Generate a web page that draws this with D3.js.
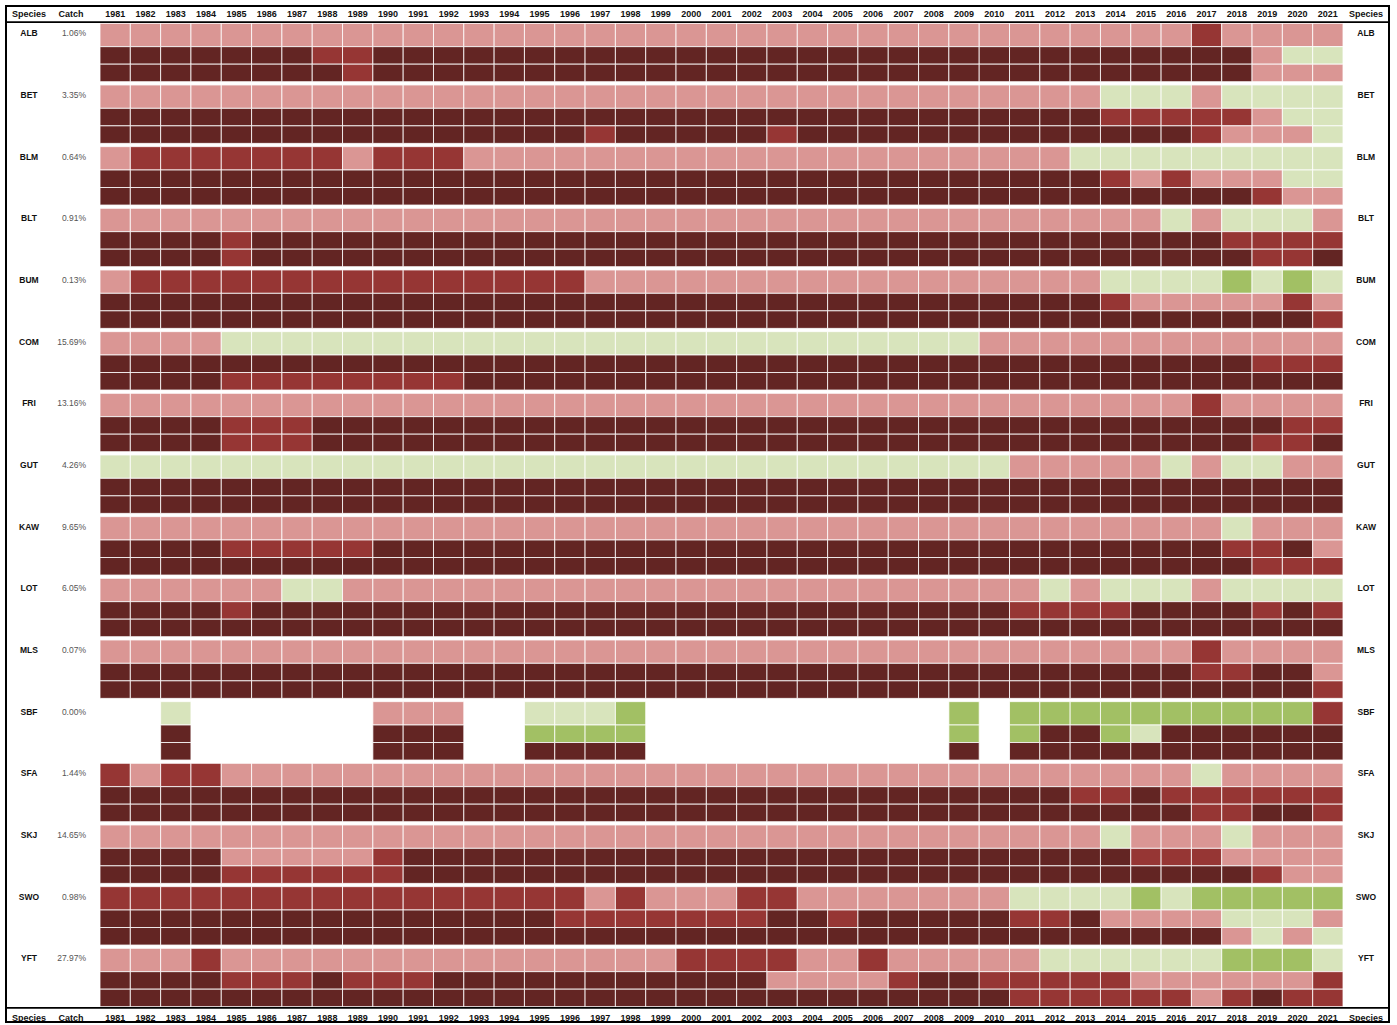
<!DOCTYPE html>
<html>
<head>
<meta charset="utf-8">
<script src="https://cdn.jsdelivr.net/npm/d3@7"></script>
<style>
  html, body { margin: 0; padding: 0; background: #fff; }
  svg { display: block; font-family: "Liberation Sans", Arial, sans-serif; }
</style>
</head>
<body>
<svg id="chart" width="1397" height="1025"></svg>
<script>
// Species codes and their share of total catch
const species = ["ALB","BET","BLM","BLT","BUM","COM","FRI","GUT","KAW","LOT","MLS","SBF","SFA","SKJ","SWO","YFT"];
const catchShare = ["1.06%","3.35%","0.64%","0.91%","0.13%","15.69%","13.16%","4.26%","9.65%","6.05%","0.07%","0.00%","1.44%","14.65%","0.98%","27.97%"];
const years = d3.range(1981, 2022).map(String);

// Status codes per year (1981-2021), three indicator rows per species.
// D = dark red, R = red, L = light red, G = light green, V = green, . = no data.
// Spaces only group the decades for reading.
const statusALB = ["LLLLLLLLLL LLLLLLLLLL LLLLLLLLLL LLLLLLRLLL L",
                   "DDDDDDDRRD DDDDDDDDDD DDDDDDDDDD DDDDDDDDLG G",
                   "DDDDDDDDRD DDDDDDDDDD DDDDDDDDDD DDDDDDDDLL L"];
const statusBET = ["LLLLLLLLLL LLLLLLLLLL LLLLLLLLLL LLLGGGLGGG G",
                   "DDDDDDDDDD DDDDDDDDDD DDDDDDDDDD DDDRRRRRLG G",
                   "DDDDDDDDDD DDDDDDRDDD DDRDDDDDDD DDDDDDRLLL G"];
const statusBLM = ["LRRRRRRRLR RRLLLLLLLL LLLLLLLLLL LLGGGGGGGG G",
                   "DDDDDDDDDD DDDDDDDDDD DDDDDDDDDD DDDRLRLLLG G",
                   "DDDDDDDDDD DDDDDDDDDD DDDDDDDDDD DDDDDDDDRL L"];
const statusBLT = ["LLLLLLLLLL LLLLLLLLLL LLLLLLLLLL LLLLLGLGGG L",
                   "DDDDRDDDDD DDDDDDDDDD DDDDDDDDDD DDDDDDDRRR R",
                   "DDDDRDDDDD DDDDDDDDDD DDDDDDDDDD DDDDDDDDRR D"];
const statusBUM = ["LRRRRRRRRR RRRRRRLLLL LLLLLLLLLL LLLGGGGVGV G",
                   "DDDDDDDDDD DDDDDDDDDD DDDDDDDDDD DDDRLLLLLR L",
                   "DDDDDDDDDD DDDDDDDDDD DDDDDDDDDD DDDDDDDDDD R"];
const statusCOM = ["LLLLGGGGGG GGGGGGGGGG GGGGGGGGGL LLLLLLLLLL L",
                   "DDDDDDDDDD DDDDDDDDDD DDDDDDDDDD DDDDDDDDRR R",
                   "DDDDRRRRRR RRDDDDDDDD DDDDDDDDDD DDDDDDDDDD D"];
const statusFRI = ["LLLLLLLLLL LLLLLLLLLL LLLLLLLLLL LLLLLLRLLL L",
                   "DDDDRRRDDD DDDDDDDDDD DDDDDDDDDD DDDDDDDDDR R",
                   "DDDDRRRDDD DDDDDDDDDD DDDDDDDDDD DDDDDDDDRR D"];
const statusGUT = ["GGGGGGGGGG GGGGGGGGGG GGGGGGGGGG LLLLLGLGGL L",
                   "DDDDDDDDDD DDDDDDDDDD DDDDDDDDDD DDDDDDDDDD D",
                   "DDDDDDDDDD DDDDDDDDDD DDDDDDDDDD DDDDDDDDDD D"];
const statusKAW = ["LLLLLLLLLL LLLLLLLLLL LLLLLLLLLL LLLLLLLGLL L",
                   "DDDDRRRRRD DDDDDDDDDD DDDDDDDDDD DDDDDDDRRD L",
                   "DDDDDDDDDD DDDDDDDDDD DDDDDDDDDD DDDDDDDDRR R"];
const statusLOT = ["LLLLLLGGLL LLLLLLLLLL LLLLLLLLLL LGLGGGLGGG G",
                   "DDDDRDDDDD DDDDDDDDDD DDDDDDDDDD RRRRDDDDRD R",
                   "DDDDDDDDDD DDDDDDDDDD DDDDDDDDDD DDDDDDDDDD D"];
const statusMLS = ["LLLLLLLLLL LLLLLLLLLL LLLLLLLLLL LLLLLLRLLL L",
                   "DDDDDDDDDD DDDDDDDDDD DDDDDDDDDD DDDDDDRRDD L",
                   "DDDDDDDDDD DDDDDDDDDD DDDDDDDDDD DDDDDDDDDD R"];
const statusSBF = ["..G......L LL..GGGV.. ........V. VVVVVVVVVV R",
                   "..D......D DD..VVVV.. ........V. VDDVGDDDDD D",
                   "..D......D DD..DDDD.. ........D. DDDDDDDDDD D"];
const statusSFA = ["RLRRLLLLLL LLLLLLLLLL LLLLLLLLLL LLLLLLGLLL L",
                   "DDDDDDDDDD DDDDDDDDDD DDDDDDDDDD DDRRDRRRRR R",
                   "DDDDDDDDDD DDDDDDDDDD DDDDDDDDDD DDDDDDRRDD R"];
const statusSKJ = ["LLLLLLLLLL LLLLLLLLLL LLLLLLLLLL LLLGLLLGLL L",
                   "DDDDLLLLLR DDDDDDDDDD DDDDDDDDDD DDDDRRRLLL L",
                   "DDDDRRRRRR DDDDDDDDDD DDDDDDDDDD DDDDDDDDRL L"];
const statusSWO = ["RRRRRRRRRR RRRRRRLRLL LRRLLLLLLL GGGGVGVVVV V",
                   "DDDDDDDDDD DDDDDRRRRR RRDDRDDDDD RRDLLLLGGG L",
                   "DDDDDDDDDD DDDDDDDDDD DDDDDDDDDD DDDDDDDLGL G"];
const statusYFT = ["LLLRLLLLLL LLLLLLLLLR RRRLLRLLLL LGGGGGGVVV G",
                   "DDDDRRRDRR RDDDDDDDDD DDLLLLRDDR RRRRLLLLLL R",
                   "DDDDDDDDDD DDDDDDDDDD DDDDDDDDDD RRRRRRLRDR R"];

const statusBySpecies = [statusALB, statusBET, statusBLM, statusBLT, statusBUM, statusCOM,
  statusFRI, statusGUT, statusKAW, statusLOT, statusMLS, statusSBF, statusSFA, statusSKJ,
  statusSWO, statusYFT];

// ---- drawing ----
const svg = d3.select("#chart");
const W = 1397, H = 1025;

const x = d3.scaleBand().domain(years).range([100, 1343]);
const yGroup = d3.scaleBand().domain(species).range([23.3, 1006.7]).paddingInner(0.053);
// the first indicator row is taller than the two below it
const rowEdges = [0, 0.4, 0.7, 1.0];

const fill = d3.scaleOrdinal()
  .domain(["D", "R", "L", "G", "V"])
  .range(["#632523", "#963634", "#DA9694", "#D8E4BC", "#A2C064"]);

const cells = [];
species.forEach((sp, si) => {
  statusBySpecies[si].forEach((rowStr, ri) => {
    const codes = rowStr.replace(/ /g, "").split("");
    codes.forEach((c, yi) => {
      if (c !== ".") cells.push({ sp, row: ri, year: years[yi], code: c });
    });
  });
});

const bw = yGroup.bandwidth();
svg.append("g")
  .selectAll("rect")
  .data(cells)
  .join("rect")
  .attr("x", d => x(d.year))
  .attr("y", d => yGroup(d.sp) + rowEdges[d.row] * bw)
  .attr("width", x.bandwidth())
  .attr("height", d => (rowEdges[d.row + 1] - rowEdges[d.row]) * bw)
  .attr("fill", d => fill(d.code))
  .attr("stroke", "#fff")
  .attr("stroke-opacity", 0.8)
  .attr("stroke-width", 1);

// left labels: species code and catch share
const labels = svg.append("g");
labels.selectAll("text.sp")
  .data(species)
  .join("text")
  .attr("class", "sp")
  .attr("x", 29)
  .attr("y", d => yGroup(d) + 13)
  .attr("text-anchor", "middle")
  .attr("font-size", 8.5)
  .attr("font-weight", "bold")
  .attr("fill", "#111")
  .text(d => d);

labels.selectAll("text.share")
  .data(species)
  .join("text")
  .attr("class", "share")
  .attr("x", 86)
  .attr("y", (d, i) => yGroup(d) + 13)
  .attr("text-anchor", "end")
  .attr("font-size", 8.5)
  .attr("fill", "#555")
  .text((d, i) => catchShare[i]);

// right labels
labels.selectAll("text.spr")
  .data(species)
  .join("text")
  .attr("class", "spr")
  .attr("x", 1366)
  .attr("y", d => yGroup(d) + 13)
  .attr("text-anchor", "middle")
  .attr("font-size", 8.5)
  .attr("font-weight", "bold")
  .attr("fill", "#111")
  .text(d => d);

// header and footer rows
function headerRow(yBase) {
  const g = svg.append("g").attr("font-size", 9).attr("font-weight", "bold").attr("fill", "#111");
  g.append("text").attr("x", 29).attr("y", yBase).attr("text-anchor", "middle").text("Species");
  g.append("text").attr("x", 71).attr("y", yBase).attr("text-anchor", "middle").text("Catch");
  g.append("text").attr("x", 1366).attr("y", yBase).attr("text-anchor", "middle").text("Species");
  g.selectAll("text.yr")
    .data(years)
    .join("text")
    .attr("class", "yr")
    .attr("x", d => x(d) + x.bandwidth() / 2)
    .attr("y", yBase)
    .attr("text-anchor", "middle")
    .text(d => d);
}
headerRow(17.3);
headerRow(1021.3);

// frame and separators
svg.append("rect")
  .attr("x", 6).attr("y", 6)
  .attr("width", 1383).attr("height", 1016)
  .attr("fill", "none")
  .attr("stroke", "#000")
  .attr("stroke-width", 2);
svg.append("line")
  .attr("x1", 6).attr("x2", 1389)
  .attr("y1", 22.2).attr("y2", 22.2)
  .attr("stroke", "#000").attr("stroke-width", 1.8);
svg.append("line")
  .attr("x1", 6).attr("x2", 1389)
  .attr("y1", 1007.8).attr("y2", 1007.8)
  .attr("stroke", "#000").attr("stroke-width", 1.8);
</script>
</body>
</html>
